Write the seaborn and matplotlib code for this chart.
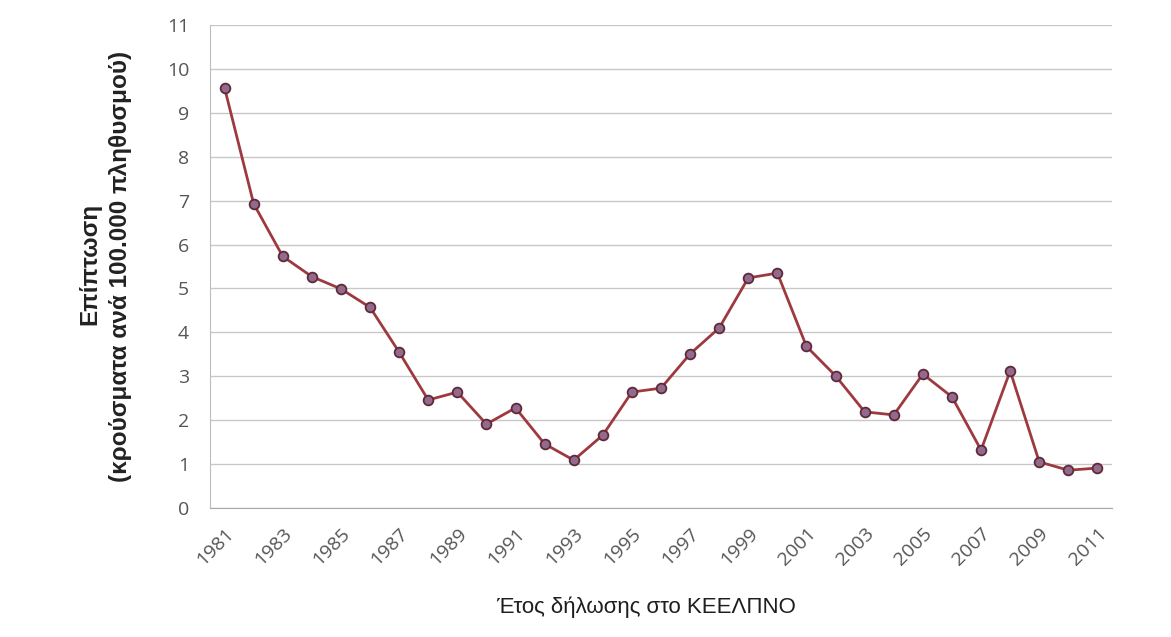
import numpy as np
import pandas as pd
import matplotlib
matplotlib.use("Agg")
import matplotlib.pyplot as plt
import seaborn as sns

# Δεδομένα (επίπτωση ανά 100.000 πληθυσμού)
years = list(range(1981, 2012))
incidence = [9.57, 6.93, 5.73, 5.27, 4.99, 4.57, 3.55, 2.46, 2.64, 1.91,
             2.28, 1.46, 1.09, 1.66, 2.64, 2.73, 3.51, 4.10, 5.24, 5.35,
             3.68, 3.01, 2.19, 2.12, 3.05, 2.53, 1.32, 3.12, 1.05, 0.86,
             0.91]
tick_years = years[::2]

df = pd.DataFrame({"year": years, "incidence": incidence})

sns.set_style("white")
plt.rcParams["font.family"] = ["Liberation Sans", "DejaVu Sans"]

fig = plt.figure(figsize=(11.71, 6.37), dpi=100)
ax = fig.add_axes([210 / 1171, 1 - 508 / 637, (1112 - 210) / 1171, (508 - 25) / 637])

sns.lineplot(data=df, x="year", y="incidence", ax=ax,
             color="#9E3A3F", linewidth=2.0,
             marker="o", markersize=7,
             markerfacecolor="#93698C", markeredgecolor="#5E2A3A",
             markeredgewidth=1.3)

ax.set_xlim(1980.5, 2011.5)
ax.set_ylim(0, 11)
ax.set_yticks(range(0, 12))
ax.set_xticks(tick_years)
ax.set_xticklabels([str(y) for y in tick_years], rotation=45,
                   ha="right", rotation_mode="anchor")

ax.yaxis.grid(True, color="#C8C8C8", linewidth=1.0)
ax.set_axisbelow(True)
for s in ["top", "right"]:
    ax.spines[s].set_visible(False)
ax.spines["left"].set_color("#BDBDBD")
ax.spines["bottom"].set_color("#A8A8A8")
ax.tick_params(axis="both", colors="#555555", labelsize=14, length=0)
ax.tick_params(axis="y", pad=15)
ax.tick_params(axis="x", pad=12)
for lbl in ax.get_xticklabels() + ax.get_yticklabels():
    lbl.set_family(["Open Sans", "DejaVu Sans"])
    lbl.set_color("#555555")

ax.set_xlabel("")
ax.set_ylabel("")
fig.text(646 / 1171, 1 - 607 / 637, "Έτος δήλωσης στο ΚΕΕΛΠΝΟ",
         ha="center", va="center", fontsize=16, color="#1E1E1E")
fig.text(90 / 1171, 1 - 264 / 637, "Επίπτωση", rotation=90,
         ha="center", va="center", fontsize=17.5, fontweight="bold", color="#222222")
fig.text(121 / 1171, 1 - 266 / 637, "(κρούσματα ανά 100.000 πληθυσμού)", rotation=90,
         ha="center", va="center", fontsize=17.5, fontweight="bold", color="#222222")

fig.savefig("out.png", dpi=100, facecolor="white")
